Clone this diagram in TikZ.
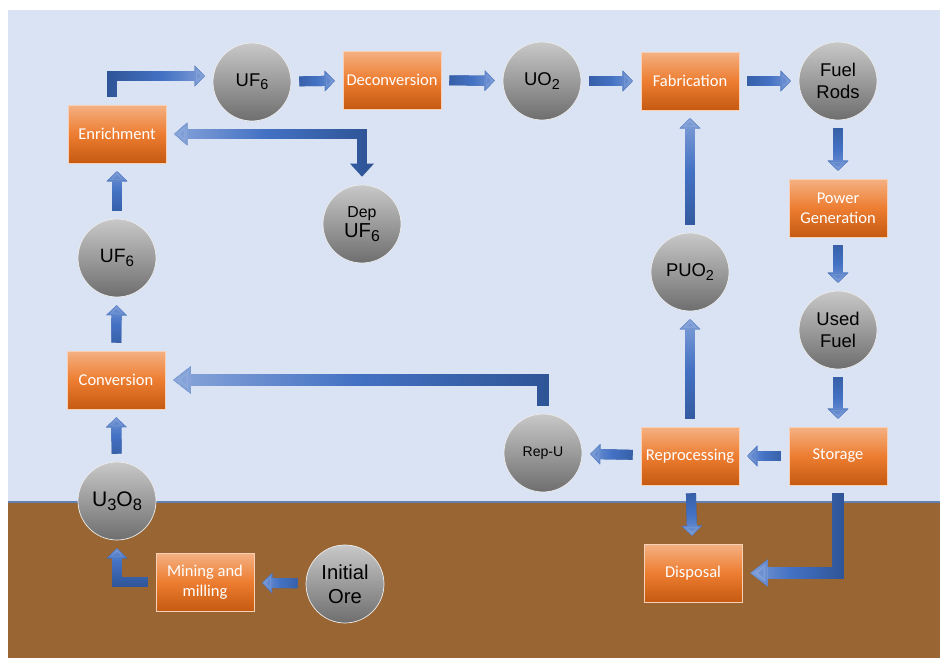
\documentclass[tikz,border=0pt]{standalone}
\usepackage{fontspec}
\setmainfont{Carlito}
\newfontfamily\arialfont{Liberation Sans}
\usetikzlibrary{arrows.meta, fadings}

\definecolor{skyblue}{HTML}{DAE3F3}
\definecolor{soil}{HTML}{996633}
\definecolor{flowdark}{HTML}{2F5597}
\definecolor{flowmid}{HTML}{4472C4}
\definecolor{flowlight}{HTML}{8FAADC}
\definecolor{boxtop}{HTML}{F4B183}
\definecolor{boxmid}{HTML}{ED7D31}
\definecolor{boxbot}{HTML}{C55A11}
\definecolor{balltop}{HTML}{C8C8C8}
\definecolor{ballbot}{HTML}{6E6E6E}

\tikzfading[name=midward, left color=transparent!100, right color=transparent!0, middle color=transparent!0]
\tikzfading[name=headward, left color=transparent!100, right color=transparent!0, middle color=transparent!100]
\newcommand{\chemsub}[1]{\raisebox{-0.35ex}{\scalebox{0.78}{#1}}}

\begin{document}
\begin{tikzpicture}[
    x=0.02cm, y=-0.02cm,
    stage/.style={rectangle, minimum width=1.96cm, minimum height=1.16cm, inner sep=1pt, top color=boxtop, bottom color=boxbot, middle color=boxmid, draw=boxtop!60!white, line width=0.4pt, text=white, align=center, font=\fontsize{9.4}{11.5}\selectfont},
    ball/.style={circle, minimum size=1.56cm, inner sep=0pt, top color=balltop, bottom color=ballbot, draw=white!85!gray, line width=0.4pt, align=center, font=\arialfont\fontsize{10.5}{12.5}\selectfont},
    flow/.style={draw=flowdark, line width=5.7pt, -{Triangle[width=11.4pt, length=5.7pt]}, shorten <=4.5pt, shorten >=4.5pt,
        postaction={draw=flowmid, path fading=midward, fading angle=#1},
        postaction={draw=flowlight, path fading=headward, fading angle=#1}},
    flow/.default=0,
    bigflow/.style={flow=#1, line width=6.8pt, -{Triangle[width=14.8pt, length=10pt]}},
    bigflow/.default=180,
]
    \useasboundingbox (0,0) rectangle (940,658);

    % Sky and ground
    \fill[white] (0,0) rectangle (940,658);
    \fill[skyblue] (8,10) rectangle (940,502);
    \fill[soil] (8,502) rectangle (940,658);
    \draw[flowdark!70!skyblue, line width=0.8pt] (8,502) -- (940,502);

    % Front end
    \node[ball, font=\arialfont\fontsize{11.5}{13.5}\selectfont] (ore) at (345,584) {Initial\\Ore};
    \node[stage] (mining) at (205,582) {Mining and\\milling};
    \node[ball, font=\arialfont\fontsize{12}{14}\selectfont] (uoxide) at (117,501) {U\chemsub{3}O\chemsub{8}};
    \node[stage] (conv) at (116,380) {Conversion};
    \node[ball, font=\arialfont\fontsize{11}{13}\selectfont] (ufleft) at (117,258) {UF\chemsub{6}};
    \node[stage] (enrich) at (117,134) {Enrichment};
    \node[ball] (dep) at (362,224) {{\fontsize{9}{11}\selectfont Dep}\\[-1pt]{\fontsize{11.5}{13}\selectfont UF\chemsub{6}}};
    \node[ball] (uftop) at (252,82) {UF\chemsub{6}};
    \node[stage] (deconv) at (392,80) {Deconversion};
    \node[ball] (uotwo) at (542,81) {UO\chemsub{2}};
    \node[stage] (fab) at (690,81) {Fabrication};
    \node[ball] (rods) at (838,81) {Fuel\\Rods};

    % Reactor and back end
    \node[stage] (power) at (838,208) {Power\\Generation};
    \node[ball] (used) at (838,330) {Used\\Fuel};
    \node[stage] (storage) at (838,456) {Storage};
    \node[stage] (reproc) at (690,456) {Reprocessing};
    \node[stage] (disposal) at (693,573) {Disposal};
    \node[ball, font=\arialfont\fontsize{8}{9.5}\selectfont] (repu) at (543,453) {Rep-U};
    \node[ball] (puo) at (690,272) {PUO\chemsub{2}};

    % Flows
    \draw[flow=180] (ore) -- (mining);
    \draw[flow=90] (mining.west) -| (uoxide.south);
    \draw[flow=90] (uoxide) -- (conv);
    \draw[flow=90] (conv) -- (ufleft);
    \draw[flow=90] (ufleft) -- (enrich);
    \draw[flow] ([xshift=-2.8pt]enrich.north) |- ([yshift=3.4pt]uftop.west);
    \draw[flow=180, {Triangle[width=12.5pt, length=7.4pt]}-{Triangle[width=13pt, length=7.4pt]}] (enrich.east) -| (dep.north);
    \draw[flow] (uftop) -- (deconv);
    \draw[flow] (deconv) -- (uotwo);
    \draw[flow] (uotwo) -- (fab);
    \draw[flow] (fab) -- (rods);
    \draw[flow=-90] (rods) -- (power);
    \draw[flow=-90] (power) -- (used);
    \draw[flow=-90] (used) -- (storage);
    \draw[flow=180] (storage) -- (reproc);
    \draw[flow=180] (reproc) -- (repu);
    \draw[flow=-90] (reproc) -- (disposal);
    \draw[flow=90] (reproc) -- (puo);
    \draw[flow=90] (puo) -- (fab);
    \draw[bigflow] (storage.south) |- (disposal.east);
    \draw[bigflow] (repu.north) |- (conv.east);

\end{tikzpicture}
\end{document}
